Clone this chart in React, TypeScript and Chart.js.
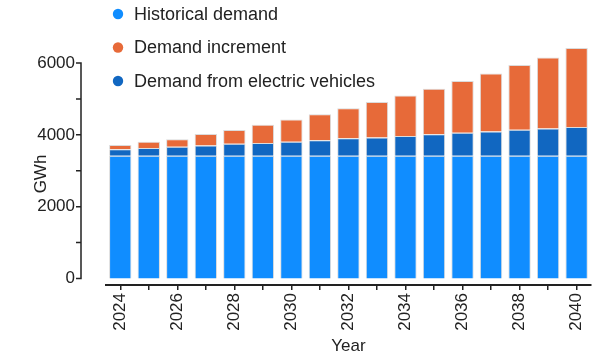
import React, { useEffect, useRef } from 'react';
import { Chart, registerables } from 'chart.js';

Chart.register(...registerables);

// Annual electricity demand, GWh
const years = ['2024', '2025', '2026', '2027', '2028', '2029', '2030', '2031', '2032', '2033', '2034', '2035', '2036', '2037', '2038', '2039', '2040'];
const historicalDemand = [3420, 3420, 3420, 3420, 3420, 3420, 3420, 3420, 3420, 3420, 3420, 3420, 3420, 3420, 3420, 3420, 3420];
const evDemand = [180, 215, 250, 285, 335, 355, 390, 430, 485, 505, 550, 600, 635, 670, 720, 755, 800];
const demandIncrement = [120, 175, 205, 320, 380, 505, 615, 725, 835, 990, 1125, 1265, 1445, 1620, 1805, 1980, 2195];

const yTickValues = [0, 1000, 2000, 3000, 4000, 5000, 6000];
const yLabelledValues = [0, 2000, 4000, 6000];

const FONT = '"Liberation Sans", Arial, Helvetica, sans-serif';
const INK = '#222222';
const COLORS = {
  historical: '#108dff',
  increment: '#e76a39',
  ev: '#1167c1',
};

// Legend rows, in display order
const legendItems = [
  { label: 'Historical demand', color: COLORS.historical },
  { label: 'Demand increment', color: COLORS.increment },
  { label: 'Demand from electric vehicles', color: COLORS.ev },
];

// Draws the detached y axis (line + ticks) and the dot legend
const axisAndLegend = {
  id: 'axisAndLegend',
  afterDraw(chart: any) {
    const { ctx } = chart;
    const yScale = chart.scales.y;
    const axisX = 81;
    ctx.save();
    ctx.strokeStyle = INK;
    ctx.lineWidth = 1.5;
    ctx.beginPath();
    ctx.moveTo(axisX, yScale.getPixelForValue(0) + 0.75);
    ctx.lineTo(axisX, yScale.getPixelForValue(6000) - 0.75);
    for (const v of yTickValues) {
      const py = yScale.getPixelForValue(v);
      ctx.moveTo(axisX - 5, py);
      ctx.lineTo(axisX, py);
    }
    ctx.stroke();

    ctx.font = `18px ${FONT}`;
    ctx.textBaseline = 'middle';
    ctx.textAlign = 'left';
    legendItems.forEach((item, i) => {
      const cy = 14 + i * 33.5;
      ctx.fillStyle = item.color;
      ctx.beginPath();
      ctx.arc(118, cy, 5.2, 0, Math.PI * 2);
      ctx.fill();
      ctx.fillStyle = INK;
      ctx.fillText(item.label, 134, cy + 1);
    });
    ctx.restore();
  },
};

export default function App() {
  const canvasRef = useRef<HTMLCanvasElement | null>(null);

  useEffect(() => {
    if (!canvasRef.current) return;
    Chart.defaults.font.family = FONT;
    Chart.defaults.color = INK;

    const barCommon = {
      borderColor: 'rgba(215, 215, 215, 0.9)',
      borderWidth: 1,
      borderSkipped: 'start' as const,
      categoryPercentage: 0.8,
      barPercentage: 0.98,
      clip: false as const,
    };

    const chart = new Chart(canvasRef.current, {
      type: 'bar',
      data: {
        labels: years,
        datasets: [
          { label: 'Historical demand', data: historicalDemand, backgroundColor: COLORS.historical, ...barCommon },
          { label: 'Demand from electric vehicles', data: evDemand, backgroundColor: COLORS.ev, ...barCommon },
          { label: 'Demand increment', data: demandIncrement, backgroundColor: COLORS.increment, ...barCommon },
        ],
      },
      options: {
        responsive: false,
        animation: false,
        devicePixelRatio: 1,
        layout: { padding: { top: 63, left: 0, right: 0, bottom: 0 } },
        plugins: {
          legend: { display: false },
          tooltip: { enabled: false },
        },
        scales: {
          x: {
            stacked: true,
            grid: {
              display: true,
              offset: false,
              drawOnChartArea: false,
              drawTicks: true,
              tickLength: 5,
              color: INK,
              lineWidth: 1.5,
            },
            border: { display: true, color: INK, width: 2 },
            ticks: {
              autoSkip: false,
              maxRotation: 90,
              minRotation: 90,
              padding: 3,
              color: INK,
              font: { size: 17 },
              callback: (_v: any, i: number) => (i % 2 === 0 ? years[i] : ''),
            },
            title: {
              display: true,
              text: 'Year',
              color: INK,
              font: { size: 17 },
              padding: { top: 0, bottom: 3 },
            },
            afterFit: (scale: any) => {
              scale.height = 75;
            },
          },
          y: {
            stacked: true,
            min: -180,
            max: 6000,
            grid: { display: false, drawTicks: false },
            border: { display: false },
            afterBuildTicks: (scale: any) => {
              scale.ticks = yTickValues.map((v) => ({ value: v }));
            },
            ticks: {
              padding: 31,
              color: INK,
              font: { size: 17 },
              callback: (v: any) => (yLabelledValues.includes(Number(v)) ? String(v) : ''),
            },
            title: {
              display: true,
              text: 'GWh',
              color: INK,
              font: { size: 17 },
              padding: { top: 31, bottom: 0 },
            },
            afterFit: (scale: any) => {
              scale.width = 106;
            },
          },
        },
      },
      plugins: [axisAndLegend],
    });

    return () => chart.destroy();
  }, []);

  return (
    <div
      style={{
        position: 'fixed',
        left: 0,
        top: 0,
        width: 595,
        height: 360,
        overflow: 'hidden',
        background: '#ffffff',
      }}
    >
      <canvas ref={canvasRef} width={600} height={360} style={{ display: 'block' }} />
    </div>
  );
}
